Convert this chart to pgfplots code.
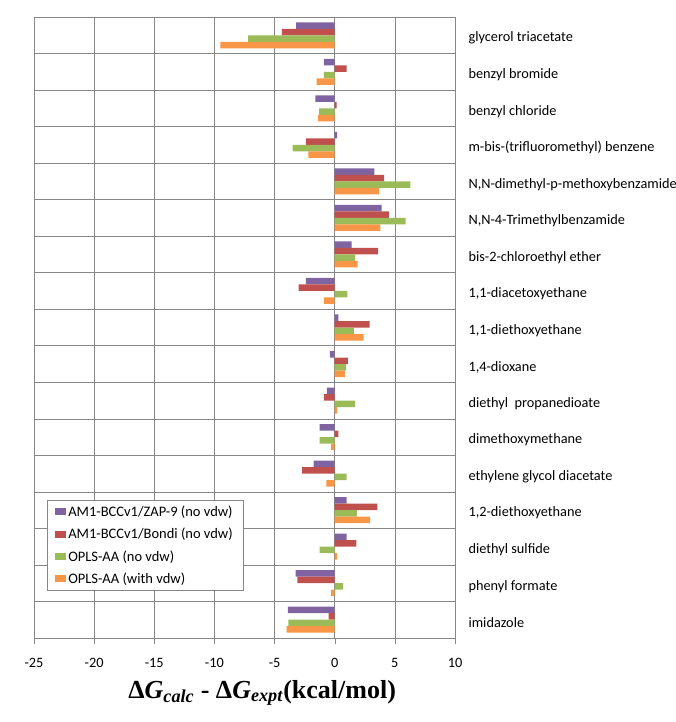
\documentclass[border=0pt]{standalone}
\usepackage{fontspec}
\setmainfont{Carlito}
\newfontfamily\lbl{Liberation Serif}
\usepackage{pgfplots}
\pgfplotsset{compat=1.18}
\definecolor{cP}{HTML}{8064A2}
\definecolor{cR}{HTML}{C0504D}
\definecolor{cG}{HTML}{9BBB59}
\definecolor{cO}{HTML}{F79646}
\definecolor{gridc}{HTML}{878787}
\begin{document}
\begin{tikzpicture}
\path[use as bounding box] (-34pt,-84pt) rectangle (642pt,638pt);
\begin{axis}[
  at={(0pt,0pt)}, anchor=south west,
  scale only axis, width=421pt, height=621pt,
  xbar, bar width=0.178,
  xmin=-25, xmax=10, ymin=-0.5, ymax=16.5, y dir=reverse,
  axis line style={gridc},
  xtick={-25,-20,-15,-10,-5,0,5,10},
  xticklabels={-25,-20,-15,-10,-5,0,5,10},
  xtick pos=lower, tick align=outside, major tick length=6pt, minor tick length=0pt,
  xtick style={gridc},
  xmajorgrids, grid style={gridc, line width=0.6pt},
  ytick={0,...,16},
  minor ytick={-0.5,0.5,...,16.5},
  yminorgrids, minor grid style={gridc, line width=0.6pt},
  ytick style={draw=none},
  yticklabel pos=upper,
  yticklabel style={anchor=west, xshift=4pt, yshift=-3pt, font=\fontsize{14.3}{16}\selectfont},
  xticklabel style={font=\fontsize{14.3}{16}\selectfont, yshift=-11pt},
  yticklabels={glycerol triacetate, benzyl bromide, benzyl chloride, m-bis-(trifluoromethyl) benzene, {N,N-dimethyl-p-methoxybenzamide}, {N,N-4-Trimethylbenzamide}, bis-2-chloroethyl ether, {1,1-diacetoxyethane}, {1,1-diethoxyethane}, {1,4-dioxane}, diethyl\ \ propanedioate, dimethoxymethane, ethylene glycol diacetate, {1,2-diethoxyethane}, diethyl sulfide, phenyl formate, imidazole},
  xlabel={\lbl\bfseries\fontsize{26}{30}\selectfont Δ\textit{G}\textsubscript{\textit{calc}} - Δ\textit{G}\textsubscript{\textit{expt}}(kcal/mol)},
  xlabel style={at={(axis description cs:0.542,0)}, anchor=north, inner sep=0pt, yshift=-42pt},
  legend style={at={(axis description cs:0.031,0.222)}, anchor=north west, draw=gridc, fill=white,
    font=\fontsize{14.5}{16}\selectfont, row sep=6.2pt, inner xsep=8pt, inner ysep=3.5pt},
  legend cell align=left,
  legend image code/.code={\path (0pt,-3.5pt) rectangle (11pt,3.5pt);\fill[#1] (4pt,-3.5pt) rectangle (11pt,3.5pt);},
]
\addplot[fill=cP, draw=none, bar shift=-0.267] coordinates {
(-3.2,0) (-0.9,1) (-1.6,2) (0.2,3) (3.3,4) (3.9,5) (1.4,6) (-2.4,7) (0.3,8) (-0.4,9) (-0.65,10) (-1.25,11) (-1.75,12) (1.0,13) (1.0,14) (-3.25,15) (-3.9,16)};
\addplot[fill=cR, draw=none, bar shift=-0.089] coordinates {
(-4.4,0) (1.0,1) (0.15,2) (-2.4,3) (4.1,4) (4.5,5) (3.6,6) (-3.0,7) (2.9,8) (1.1,9) (-0.9,10) (0.3,11) (-2.7,12) (3.55,13) (1.8,14) (-3.1,15) (-0.5,16)};
\addplot[fill=cG, draw=none, bar shift=0.089] coordinates {
(-7.2,0) (-0.9,1) (-1.3,2) (-3.5,3) (6.3,4) (5.9,5) (1.7,6) (1.05,7) (1.6,8) (0.95,9) (1.7,10) (-1.25,11) (1.0,12) (1.85,13) (-1.25,14) (0.7,15) (-3.85,16)};
\addplot[fill=cO, draw=none, bar shift=0.267] coordinates {
(-9.5,0) (-1.5,1) (-1.4,2) (-2.2,3) (3.7,4) (3.8,5) (1.9,6) (-0.9,7) (2.4,8) (0.85,9) (0.2,10) (-0.3,11) (-0.7,12) (2.95,13) (0.2,14) (-0.3,15) (-4.0,16)};
\legend{AM1-BCCv1/ZAP-9 (no vdw), AM1-BCCv1/Bondi (no vdw), OPLS-AA (no vdw), OPLS-AA (with vdw)}
\end{axis}
\end{tikzpicture}
\end{document}
